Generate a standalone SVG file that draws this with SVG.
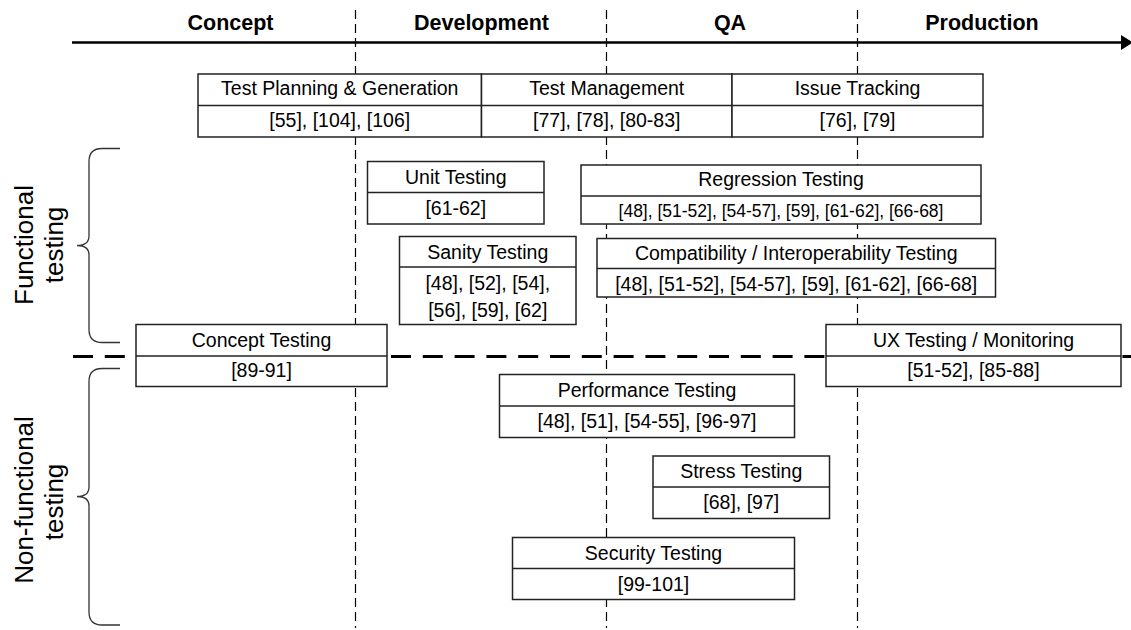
<svg xmlns="http://www.w3.org/2000/svg" width="1131" height="630" viewBox="0 0 1131 630">
  <style>
    .box { fill: #ffffff; stroke: #222222; stroke-width: 1.5; }
    .div { stroke: #222222; stroke-width: 1.5; }
    .lbl { font-family: "Liberation Sans", Arial, sans-serif; font-size: 19.5px; fill: #000000; text-anchor: middle; }
    .small { font-size: 17.5px; }
    .phase { font-family: "Liberation Sans", Arial, sans-serif; font-size: 21.5px; font-weight: bold; fill: #000000; text-anchor: middle; }
    .side { font-family: "Liberation Sans", Arial, sans-serif; font-size: 26px; fill: #000000; text-anchor: middle; }
    .phase-sep { stroke: #000000; stroke-width: 1.2; stroke-dasharray: 9 5; fill: none; }
    .split-line { stroke: #000000; stroke-width: 3; stroke-dasharray: 20 11.8; fill: none; }
    .brace { fill: none; stroke: #333333; stroke-width: 1.3; }
  </style>

  <rect x="0" y="0" width="1131" height="630" fill="#ffffff"/>

  <!-- timeline axis, phase separators and the functional / non-functional split -->
  <g id="guides">
    <line x1="72" y1="42.5" x2="1122" y2="42.5" stroke="#000000" stroke-width="2.5"/>
    <polygon points="1121,35 1133,42.5 1121,50" fill="#000000"/>
    <line class="phase-sep" x1="355.5" y1="10" x2="355.5" y2="628"/>
    <line class="phase-sep" x1="606.5" y1="10" x2="606.5" y2="628"/>
    <line class="phase-sep" x1="857.5" y1="10" x2="857.5" y2="628"/>
    <line class="split-line" x1="73" y1="356.5" x2="1131" y2="356.5"/>
  </g>

  <!-- phase headings -->
  <g id="phases">
    <text class="phase" x="230.5" y="30">Concept</text>
    <text class="phase" x="481.5" y="30">Development</text>
    <text class="phase" x="730" y="30">QA</text>
    <text class="phase" x="982" y="30">Production</text>
  </g>

  <!-- category braces and labels -->
  <g id="functional">
    <path class="brace" d="M120,148.5 L102,148.5 Q89,148.5 89,161.5 L89,236 Q89,245.5 77,245.5 Q89,245.5 89,255 L89,329.5 Q89,342.5 102,342.5 L120,342.5"/>
    <text class="side" transform="translate(33,245) rotate(-90)">Functional</text>
    <text class="side" transform="translate(63,245) rotate(-90)">testing</text>
  </g>
  <g id="non-functional">
    <path class="brace" d="M120,368.5 L102,368.5 Q89,368.5 89,381.5 L89,487 Q89,496.5 77,496.5 Q89,496.5 89,506 L89,612 Q89,625 102,625 L120,625"/>
    <text class="side" transform="translate(33,500) rotate(-90)">Non-functional</text>
    <text class="side" transform="translate(63,502) rotate(-90)">testing</text>
  </g>

  <!-- tooling row -->
  <g id="test-planning">
    <rect class="box" x="198" y="74" width="283.5" height="63"/>
    <line class="div" x1="198" y1="105.5" x2="481.5" y2="105.5"/>
    <text class="lbl" x="339.75" y="95">Test Planning &amp; Generation</text>
    <text class="lbl" x="339.75" y="127">[55], [104], [106]</text>
  </g>
  <g id="test-management">
    <rect class="box" x="481.5" y="74" width="250.5" height="63"/>
    <line class="div" x1="481.5" y1="105.5" x2="732" y2="105.5"/>
    <text class="lbl" x="606.75" y="95">Test Management</text>
    <text class="lbl" x="606.75" y="127">[77], [78], [80-83]</text>
  </g>
  <g id="issue-tracking">
    <rect class="box" x="732" y="74" width="251" height="63"/>
    <line class="div" x1="732" y1="105.5" x2="983" y2="105.5"/>
    <text class="lbl" x="857.5" y="95">Issue Tracking</text>
    <text class="lbl" x="857.5" y="127">[76], [79]</text>
  </g>

  <!-- functional testing -->
  <g id="unit-testing">
    <rect class="box" x="367.5" y="161.5" width="176.5" height="62.5"/>
    <line class="div" x1="367.5" y1="192.5" x2="544" y2="192.5"/>
    <text class="lbl" x="455.75" y="183.5">Unit Testing</text>
    <text class="lbl" x="455.75" y="215">[61-62]</text>
  </g>
  <g id="regression-testing">
    <rect class="box" x="581" y="165" width="400" height="59"/>
    <line class="div" x1="581" y1="196" x2="981" y2="196"/>
    <text class="lbl" x="781" y="186">Regression Testing</text>
    <text class="lbl small" x="781" y="216.5">[48], [51-52], [54-57], [59], [61-62], [66-68]</text>
  </g>
  <g id="sanity-testing">
    <rect class="box" x="399.5" y="236.5" width="176.5" height="88"/>
    <line class="div" x1="399.5" y1="267" x2="576" y2="267"/>
    <text class="lbl" x="487.75" y="258.5">Sanity Testing</text>
    <text class="lbl" x="487.75" y="289.5">[48], [52], [54],</text>
    <text class="lbl" x="487.75" y="316.5">[56], [59], [62]</text>
  </g>
  <g id="compatibility-testing">
    <rect class="box" x="597" y="238.5" width="398.5" height="58.5"/>
    <line class="div" x1="597" y1="268.5" x2="995.5" y2="268.5"/>
    <text class="lbl" x="796.25" y="260">Compatibility / Interoperability Testing</text>
    <text class="lbl" x="796.25" y="291">[48], [51-52], [54-57], [59], [61-62], [66-68]</text>
  </g>

  <!-- boxes straddling both categories -->
  <g id="concept-testing">
    <rect class="box" x="136" y="324.5" width="251" height="62"/>
    <line class="div" x1="136" y1="356" x2="387" y2="356"/>
    <text class="lbl" x="261.5" y="346.5">Concept Testing</text>
    <text class="lbl" x="261.5" y="377">[89-91]</text>
  </g>
  <g id="ux-testing">
    <rect class="box" x="826" y="324.5" width="295" height="62"/>
    <line class="div" x1="826" y1="356" x2="1121" y2="356"/>
    <text class="lbl" x="973.5" y="346.5">UX Testing / Monitoring</text>
    <text class="lbl" x="973.5" y="377">[51-52], [85-88]</text>
  </g>

  <!-- non-functional testing -->
  <g id="performance-testing">
    <rect class="box" x="499.5" y="374.5" width="295" height="63"/>
    <line class="div" x1="499.5" y1="406" x2="794.5" y2="406"/>
    <text class="lbl" x="647" y="396.5">Performance Testing</text>
    <text class="lbl" x="647" y="428">[48], [51], [54-55], [96-97]</text>
  </g>
  <g id="stress-testing">
    <rect class="box" x="653" y="456" width="176.5" height="62.5"/>
    <line class="div" x1="653" y1="487" x2="829.5" y2="487"/>
    <text class="lbl" x="741.25" y="477.5">Stress Testing</text>
    <text class="lbl" x="741.25" y="509">[68], [97]</text>
  </g>
  <g id="security-testing">
    <rect class="box" x="512.5" y="537.5" width="282" height="62"/>
    <line class="div" x1="512.5" y1="568.5" x2="794.5" y2="568.5"/>
    <text class="lbl" x="653.5" y="560">Security Testing</text>
    <text class="lbl" x="653.5" y="590.5">[99-101]</text>
  </g>
</svg>
